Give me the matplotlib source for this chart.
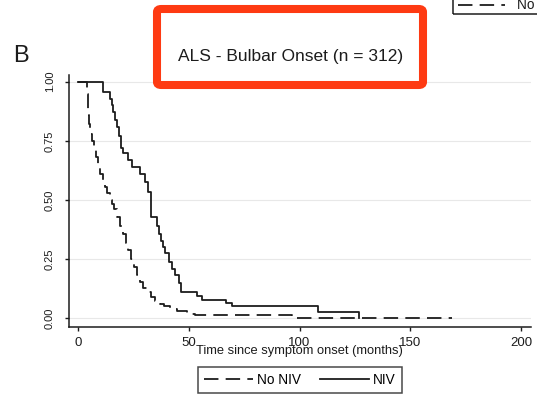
import matplotlib
matplotlib.use('Agg')
import matplotlib.pyplot as plt
from matplotlib.patches import FancyBboxPatch, Rectangle
from matplotlib.lines import Line2D

W, H = 537, 394

# Kaplan-Meier steps (months, survival)
niv_time = [0, 11.4, 14.4, 15.3, 16.0, 16.8, 17.6, 18.4, 19.2, 20.5, 22.5, 24.5, 28.0,
            30.2, 31.5, 33.0, 35.5, 36.5, 37.5, 38.5, 39.5, 41.0, 42.5, 44.0, 45.5,
            46.5, 53.6, 55.8, 66.8, 69.4, 108.5, 126.9]
niv_surv = [1.0, 0.958, 0.926, 0.90, 0.87, 0.84, 0.81, 0.77, 0.72, 0.70, 0.67, 0.64, 0.61,
            0.575, 0.535, 0.43, 0.39, 0.355, 0.325, 0.30, 0.275, 0.24, 0.21, 0.185, 0.15,
            0.112, 0.096, 0.078, 0.065, 0.052, 0.028, 0.0]

noniv_time = [0, 4.0, 4.3, 4.6, 5.0, 5.5, 6.2, 7.0, 8.0, 9.0, 10.0, 11.2, 12.2, 13.3,
              14.3, 15.2, 16.3, 17.5, 19.0, 20.3, 21.5, 22.7, 24.0, 25.3, 26.7, 28.0,
              29.5, 31.0, 32.8, 34.8, 37.0, 39.0, 41.5, 44.5, 49.0, 53.0, 96.5]
noniv_surv = [1.0, 0.95, 0.90, 0.86, 0.82, 0.78, 0.75, 0.72, 0.68, 0.64, 0.61, 0.58, 0.555,
              0.53, 0.50, 0.485, 0.46, 0.43, 0.39, 0.355, 0.32, 0.29, 0.25, 0.215, 0.185,
              0.155, 0.13, 0.11, 0.09, 0.075, 0.06, 0.05, 0.04, 0.03, 0.02, 0.013, 0.003]
noniv_end = 169

xticks = [0, 50, 100, 150, 200]
yticks = [0, 0.25, 0.5, 0.75, 1.0]
ytick_labels = ['0.00', '0.25', '0.50', '0.75', '1.00']

title = 'ALS - Bulbar Onset (n = 312)'
xlabel = 'Time since symptom onset (months)'


def px(x, y):
    # pixel coords (top-left origin) -> figure fraction
    return x / W, 1 - y / H


def main():
    plt.rcParams['font.family'] = ['Liberation Sans', 'DejaVu Sans']
    fig = plt.figure(figsize=(W / 100, H / 100), dpi=100)
    fig.patch.set_facecolor('white')

    ax = fig.add_axes([69 / W, 1 - 327 / H, (531 - 69) / W, (327 - 75) / H])
    ax.set_xlim(-4.06, 204.5)
    ax.set_ylim(-0.0368, 1.0283)

    for y in yticks:
        ax.axhline(y, color='#e8e8e8', lw=0.8, zorder=0)

    ink = '#1c1c1c'
    ax.step(noniv_time + [noniv_end], noniv_surv + [noniv_surv[-1]], where='post',
            color=ink, lw=1.3, dashes=(8, 4), label='No NIV')
    ax.step(niv_time, niv_surv, where='post', color=ink, lw=1.3, label='NIV')

    for s in ['top', 'right']:
        ax.spines[s].set_visible(False)
    for s in ['left', 'bottom']:
        ax.spines[s].set_linewidth(1.1)
        ax.spines[s].set_color(ink)

    ax.set_xticks(xticks)
    ax.set_xticklabels([str(t) for t in xticks], fontsize=9.5)
    ax.set_yticks(yticks)
    ax.set_yticklabels(ytick_labels, fontsize=8, rotation=90, va='center')
    ax.tick_params(axis='x', length=3, width=1, pad=4, colors=ink)
    ax.tick_params(axis='y', length=3, width=1, pad=7, colors=ink)

    fig.text(*px(299, 351), xlabel, fontsize=9.3, ha='center', va='center', color=ink)

    leg = ax.legend(loc='center', bbox_to_anchor=px(300, 380), bbox_transform=fig.transFigure,
                    ncol=2, fontsize=9.8, frameon=True, fancybox=False, edgecolor=ink,
                    handlelength=3.6, handletextpad=0.3, columnspacing=1.4,
                    borderpad=0.45, borderaxespad=0)
    leg.get_frame().set_linewidth(1.1)

    # title with red highlight box
    fig.text(*px(291, 57), title, fontsize=12.5, ha='center', va='center', color=ink)
    x0, y0 = px(157, 85)
    x1, y1 = px(423, 9)
    fig.patches.append(FancyBboxPatch((x0, y0), x1 - x0, y1 - y0,
                                      boxstyle='round,pad=0,rounding_size=0.008',
                                      transform=fig.transFigure, fill=False,
                                      edgecolor='#fe3a12', lw=5.8))

    # panel letter
    fig.text(*px(21, 56), 'B', fontsize=17, ha='center', va='center', color=ink)

    # piece of the neighbouring panel's legend, cut off at the top right
    rx, ry = px(453, 14)
    fig.patches.append(Rectangle((rx, ry), 0.3, 0.1, transform=fig.transFigure,
                                 fill=False, edgecolor=ink, lw=1.1))
    lx0, ly = px(458, 5)
    lx1, _ = px(505, 5)
    fig.lines.append(Line2D([lx0, lx1], [ly, ly], transform=fig.transFigure,
                            color=ink, lw=1.3, dashes=(8, 4)))
    fig.text(*px(517, 5), 'No NIV', fontsize=9.8, ha='left', va='center', color=ink)

    fig.savefig('out.png', dpi=100)


if __name__ == '__main__':
    main()
